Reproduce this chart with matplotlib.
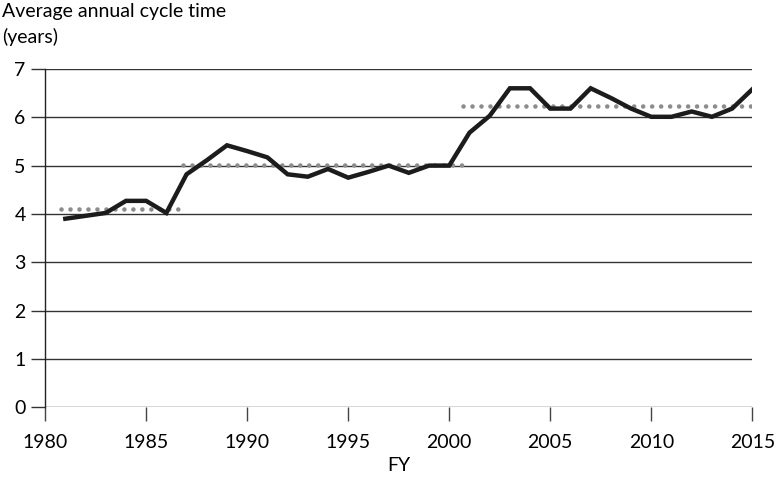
import matplotlib
matplotlib.use("Agg")
import matplotlib.pyplot as plt

# Font
plt.rcParams['font.family'] = ['Lato', 'DejaVu Sans']

# Data
years = list(range(1981, 2016))
cycle_time = [3.90, 3.96, 4.02, 4.27, 4.27, 4.02, 4.82, 5.11, 5.42, 5.30, 5.17,
              4.82, 4.77, 4.93, 4.75, 4.87, 5.00, 4.85, 5.00, 5.00, 5.68,
              6.03, 6.60, 6.60, 6.18, 6.18, 6.60, 6.40, 6.18, 6.01, 6.01,
              6.12, 6.01, 6.18, 6.58]

# Period averages (dotted segments)
avg_start = [1980.8, 1986.8, 2000.7]
avg_end = [1986.8, 2001.0, 2015.0]
avg_value = [4.11, 5.01, 6.24]

fig = plt.figure(figsize=(7.78, 4.79), dpi=100)
ax = fig.add_axes([0.058, 0.150, 0.909, 0.706])

# Gridlines
for v in range(0, 8):
    ax.axhline(v, color='#333333', lw=1.0, zorder=1)

# Average dotted segments
for s, e, v in zip(avg_start, avg_end, avg_value):
    ax.plot([s, e], [v, v], color='#8c8c8c', lw=3.3,
            linestyle=(0, (0.01, 1.95)), dash_capstyle='round', zorder=2)

# Cycle time line
ax.plot(years, cycle_time, color='#1c1c1c', lw=3.2, solid_joinstyle='miter', zorder=3)

ax.set_xlim(1980, 2015)
ax.set_ylim(0, 7)
ax.set_xticks(range(1980, 2016, 5))
ax.set_yticks(range(0, 8))

for side in ['top', 'right', 'bottom']:
    ax.spines[side].set_visible(False)
ax.spines['left'].set_color('#222222')
ax.spines['left'].set_linewidth(1.0)

ax.tick_params(axis='x', length=10, width=1.0, color='#444444', labelsize=14, pad=9)
ax.tick_params(axis='y', length=10, width=1.0, color='#333333', labelsize=14, pad=4)

ax.set_xlabel('FY', fontsize=14, labelpad=5)
fig.text(0.003, 0.993, 'Average annual cycle time\n(years)', fontsize=14,
         ha='left', va='top', linespacing=1.5)

plt.savefig('out.png', dpi=100)
